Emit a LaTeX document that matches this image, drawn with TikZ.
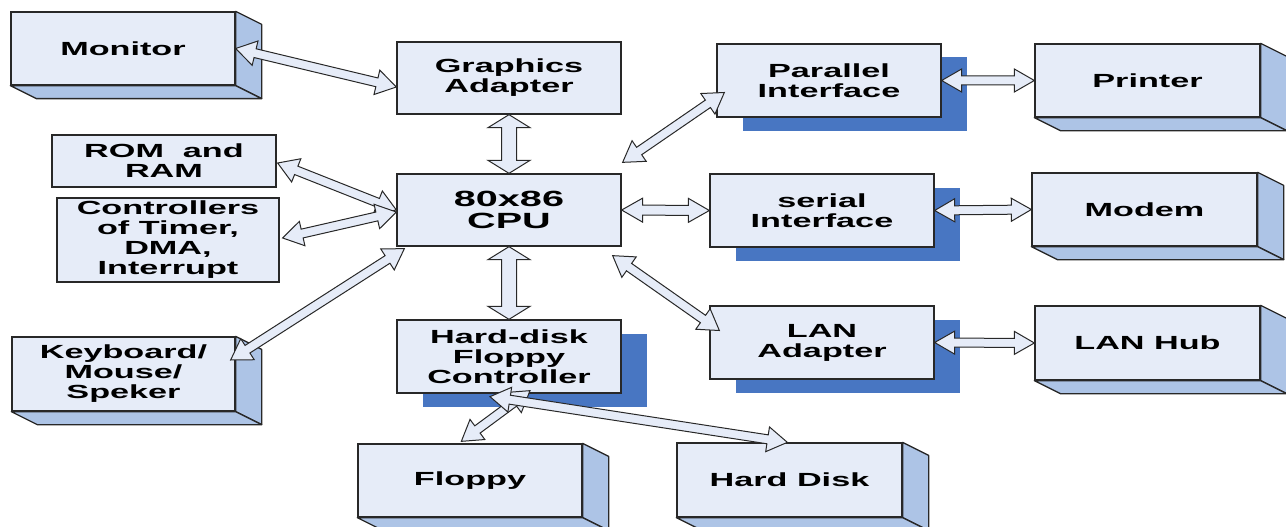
\documentclass[tikz,border=0pt]{standalone}
\usepackage{fontspec}
\setmainfont{Liberation Sans}[FakeStretch=1.8]
\usetikzlibrary{calc,shadows}
\definecolor{boxfill}{RGB}{230,236,248}
\definecolor{sidefill}{RGB}{173,196,230}
\definecolor{shadowblue}{RGB}{72,118,194}
\definecolor{edge}{RGB}{40,40,40}
\tikzset{
  box/.style={draw=edge, line width=1.3pt, fill=boxfill, align=center, inner sep=0pt,
    font=\fontsize{19}{20}\selectfont\bfseries},
  shdw/.style={drop shadow={shadow xshift=26pt, shadow yshift=-13.5pt, fill=shadowblue, opacity=1}},
  side/.style={draw=edge, line width=1.3pt, fill=sidefill, line join=round},
  barrow/.style={draw=edge, line width=1pt, fill=boxfill, line join=miter},
}
\newcommand{\threed}[1]{%
  \path[side] (#1.north east) -- ($(#1.north east)+(26,13)$) -- ($(#1.south east)+(26,13)$) -- (#1.south east) -- cycle;
  \path[side] (#1.south west) -- ($(#1.south west)+(26,13)$) -- ($(#1.south east)+(26,13)$) -- (#1.south east) -- cycle;
}
% #1,#2 end points; #3 half shaft; #4 half head; #5 head length
\newcommand{\dblarrow}[5]{%
  \path[barrow] let \p1=#1, \p2=#2, \p3=($(\p1)!#5pt!(\p2)$), \p4=($(\p2)!#5pt!(\p1)$) in
   (\p1) -- ($(\p3)!#4pt!90:(\p2)$) -- ($(\p3)!#3pt!90:(\p2)$) -- ($(\p4)!#3pt!-90:(\p1)$)
   -- ($(\p4)!#4pt!-90:(\p1)$) -- (\p2) -- ($(\p4)!#4pt!90:(\p1)$) -- ($(\p4)!#3pt!90:(\p1)$)
   -- ($(\p3)!#3pt!-90:(\p2)$) -- ($(\p3)!#4pt!-90:(\p2)$) -- cycle;
}
\begin{document}
\begin{tikzpicture}[x=1pt,y=-1pt]
\useasboundingbox (0,0) rectangle (1286,527);
% 3D boxes
\node[box, minimum width=224, minimum height=73] (mon) at (123,48.5) {Monitor};
\node[box, minimum width=223, minimum height=74] (kbd) at (123.5,374) {Keyboard/\\Mouse/\\Speker};
\node[box, minimum width=224, minimum height=73] (flp) at (470,480.5) {Floppy};
\node[box, minimum width=225, minimum height=74] (hdd) at (789.5,480) {Hard Disk};
\node[box, minimum width=225, minimum height=73] (prn) at (1147.5,80.5) {Printer};
\node[box, minimum width=225, minimum height=73] (mdm) at (1144.5,209.5) {Modem};
\node[box, minimum width=225, minimum height=74] (hub) at (1147.5,343) {LAN Hub};
\threed{mon}\threed{kbd}\threed{flp}\threed{hdd}\threed{prn}\threed{mdm}\threed{hub}
% flat boxes
\node[box, minimum width=224, minimum height=72] (gfx) at (509,78) {Graphics\\Adapter};
\node[box, minimum width=224, minimum height=72, font=\fontsize{22}{22}\selectfont\bfseries] (cpu) at (509,210) {80x86\\CPU};
\node[box, minimum width=224, minimum height=52] (rom) at (164,161) {ROM~ and\\RAM};
\node[box, minimum width=222, minimum height=84] (ctl) at (168,240) {Controllers\\of Timer,\\DMA,\\Interrupt};
% shadowed boxes
\node[box, shdw, minimum width=224, minimum height=73] (hdc) at (509,356.5) {Hard-disk\\Floppy\\Controller};
\node[box, shdw, minimum width=224, minimum height=73] (par) at (829,80.5) {Parallel\\Interface};
\node[box, shdw, minimum width=224, minimum height=73] (ser) at (822,210.5) {serial\\Interface};
\node[box, shdw, minimum width=224, minimum height=73] (lan) at (822,342.5) {LAN\\Adapter};
% connectors
\dblarrow{(mon.east)}{($(gfx.west)+(0,9)$)}{4.5}{12.5}{20}
\dblarrow{(gfx.south)}{(cpu.north)}{7.5}{21}{13}
\dblarrow{(cpu.south)}{(hdc.north)}{7.5}{21}{13}
\dblarrow{($(rom.east)+(1,2)$)}{(cpu.west)}{4.5}{12.5}{20}
\dblarrow{($(ctl.east)+(3,-2)$)}{($(cpu.west)+(0,2)$)}{4.5}{12.5}{20}
\dblarrow{($(kbd.east)+(-5,-14)$)}{($(cpu.south west)+(8,2)$)}{4.5}{12.5}{20}
\dblarrow{($(cpu.north east)+(1,-11)$)}{($(par.west)+(8,12)$)}{4.5}{12.5}{20}
\dblarrow{(cpu.east)}{(ser.west)}{5}{12}{21}
\dblarrow{($(cpu.south east)+(-9,9)$)}{($(lan.west)+(10,-12)$)}{4.5}{12.5}{20}
\dblarrow{(par.east)}{(prn.west)}{4.5}{11.5}{20}
\dblarrow{(ser.east)}{(mdm.west)}{4.5}{11.5}{20}
\dblarrow{(lan.east)}{(hub.west)}{4.5}{11.5}{20}
\dblarrow{($(flp.north west)+(104,-2)$)}{($(hdc.south)+(21,-3)$)}{4.5}{12.5}{20}
\dblarrow{($(hdc.south)+(-19,3)$)}{($(hdd.north west)+(111,0)$)}{4.5}{12.5}{20}
\end{tikzpicture}
\end{document}
